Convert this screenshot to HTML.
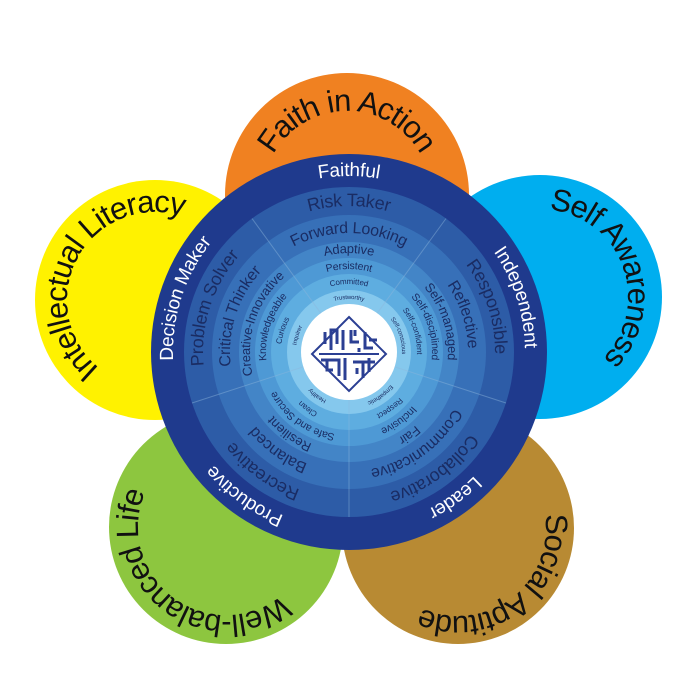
<!DOCTYPE html>
<html><head><meta charset="utf-8"><style>
html,body{margin:0;padding:0;background:#fff;}
svg{display:block;}
text{font-family:"Liberation Sans",sans-serif;}
</style></head><body>
<svg width="700" height="700" viewBox="0 0 700 700" xmlns="http://www.w3.org/2000/svg">
<defs>
<path id="pO" d="M347,287 A92,92 0 0 1 347,103 A92,92 0 0 1 347,287"/>
<path id="pC" d="M540,393 A96,96 0 0 1 540,201 A96,96 0 0 1 540,393"/>
<path id="pB" d="M458,432 A96,96 0 0 1 458,624 A96,96 0 0 1 458,432"/>
<path id="pG" d="M226,431 A96,96 0 0 1 226,623 A96,96 0 0 1 226,431"/>
<path id="pY" d="M155,396 A96,96 0 0 1 155,204 A96,96 0 0 1 155,396"/>
<path id="r1" d="M349,533 A181,181 0 0 1 349,171 A181,181 0 0 1 349,533"/>
<path id="r2" d="M349,503 A151,151 0 0 1 349,201 A151,151 0 0 1 349,503"/>
<path id="r3" d="M349,475 A123,123 0 0 1 349,229 A123,123 0 0 1 349,475"/>
<path id="r4" d="M349,454 A102,102 0 0 1 349,250 A102,102 0 0 1 349,454"/>
<path id="r5" d="M349,438 A86,86 0 0 1 349,266 A86,86 0 0 1 349,438"/>
<path id="r6" d="M349,422 A70,70 0 0 1 349,282 A70,70 0 0 1 349,422"/>
<path id="r7" d="M349,407 A55,55 0 0 1 349,297 A55,55 0 0 1 349,407"/>
</defs>
<!-- petals -->
<circle cx="347" cy="195" r="122" fill="#f08121"/>
<circle cx="155" cy="300" r="120" fill="#fff200"/>
<circle cx="540" cy="297" r="122" fill="#00aeef"/>
<circle cx="226" cy="527" r="117" fill="#8dc63f"/>
<circle cx="458" cy="528" r="116" fill="#b88a33"/>
<g font-size="31" fill="#111">
<text dominant-baseline="middle"><textPath href="#pO" startOffset="50%" text-anchor="middle">Faith in Action</textPath></text>
<text dominant-baseline="middle"><textPath href="#pC" startOffset="69.5%" text-anchor="middle">Self Awareness</textPath></text>
<text dominant-baseline="middle"><textPath href="#pB" startOffset="39.7%" text-anchor="middle">Social Aptitude</textPath></text>
<text dominant-baseline="middle"><textPath href="#pG" startOffset="60.3%" text-anchor="middle">Well-balanced Life</textPath></text>
<text dominant-baseline="middle"><textPath href="#pY" startOffset="33%" text-anchor="middle">Intellectual Literacy</textPath></text>
</g>
<!-- rings -->
<circle cx="349" cy="352" r="198" fill="#1f3a8d"/>
<circle cx="349" cy="352" r="165" fill="#2d5ca7"/>
<circle cx="349" cy="352" r="137" fill="#3770b8"/>
<circle cx="349" cy="352" r="110" fill="#4385c7"/>
<circle cx="349" cy="352" r="94" fill="#4e99d5"/>
<circle cx="349" cy="352" r="78" fill="#5eade0"/>
<circle cx="349" cy="352" r="62" fill="#85c8ed"/>
<circle cx="349" cy="352" r="48" fill="#fff"/>
<g stroke="#8fb6dc" stroke-opacity="0.45" stroke-width="1">
<line x1="349" y1="400" x2="349" y2="517"/>
<line x1="320.8" y1="313.2" x2="252" y2="218.5"/>
<line x1="377.2" y1="313.2" x2="446" y2="218.5"/>
<line x1="394.6" y1="366.8" x2="506" y2="403"/>
<line x1="303.4" y1="366.8" x2="192" y2="403"/>
</g>
<!-- ring texts -->
<g fill="#fff" font-size="19">
<text dominant-baseline="middle"><textPath href="#r1" startOffset="50%" text-anchor="middle">Faithful</textPath></text>
<text dominant-baseline="middle"><textPath href="#r1" startOffset="70%" text-anchor="middle">Independent</textPath></text>
<text dominant-baseline="middle"><textPath href="#r1" startOffset="90%" text-anchor="middle">Leader</textPath></text>
<text dominant-baseline="middle"><textPath href="#r1" startOffset="10%" text-anchor="middle">Productive</textPath></text>
<text dominant-baseline="middle"><textPath href="#r1" startOffset="30%" text-anchor="middle">Decision Maker</textPath></text>
</g>
<g fill="#1a2c63" font-size="18">
<text dominant-baseline="middle"><textPath href="#r2" startOffset="50%" text-anchor="middle">Risk Taker</textPath></text>
<text dominant-baseline="middle"><textPath href="#r2" startOffset="70%" text-anchor="middle">Responsible</textPath></text>
<text dominant-baseline="middle"><textPath href="#r2" startOffset="90%" text-anchor="middle">Collaborative</textPath></text>
<text dominant-baseline="middle"><textPath href="#r2" startOffset="10%" text-anchor="middle">Recreative</textPath></text>
<text dominant-baseline="middle"><textPath href="#r2" startOffset="30%" text-anchor="middle">Problem Solver</textPath></text>
</g>
<g fill="#1a2c63" font-size="16">
<text dominant-baseline="middle"><textPath href="#r3" startOffset="50%" text-anchor="middle">Forward Looking</textPath></text>
<text dominant-baseline="middle"><textPath href="#r3" startOffset="70%" text-anchor="middle">Reflective</textPath></text>
<text dominant-baseline="middle"><textPath href="#r3" startOffset="90%" text-anchor="middle">Communicative</textPath></text>
<text dominant-baseline="middle"><textPath href="#r3" startOffset="10%" text-anchor="middle">Balanced</textPath></text>
<text dominant-baseline="middle"><textPath href="#r3" startOffset="30%" text-anchor="middle">Critical Thinker</textPath></text>
</g>
<g fill="#1a2c63" font-size="13">
<text dominant-baseline="middle"><textPath href="#r4" startOffset="50%" text-anchor="middle">Adaptive</textPath></text>
<text dominant-baseline="middle"><textPath href="#r4" startOffset="70%" text-anchor="middle">Self-managed</textPath></text>
<text dominant-baseline="middle"><textPath href="#r4" startOffset="90%" text-anchor="middle">Fair</textPath></text>
<text dominant-baseline="middle"><textPath href="#r4" startOffset="10%" text-anchor="middle">Resilient</textPath></text>
<text dominant-baseline="middle"><textPath href="#r4" startOffset="30%" text-anchor="middle">Creative-Innovative</textPath></text>
</g>
<g fill="#1a2c63" font-size="10.5">
<text dominant-baseline="middle"><textPath href="#r5" startOffset="50%" text-anchor="middle">Persistent</textPath></text>
<text dominant-baseline="middle"><textPath href="#r5" startOffset="70%" text-anchor="middle">Self-disciplined</textPath></text>
<text dominant-baseline="middle"><textPath href="#r5" startOffset="90%" text-anchor="middle">Inclusive</textPath></text>
<text dominant-baseline="middle"><textPath href="#r5" startOffset="10%" text-anchor="middle">Safe and Secure</textPath></text>
<text dominant-baseline="middle"><textPath href="#r5" startOffset="30%" text-anchor="middle">Knowledgeable</textPath></text>
</g>
<g fill="#1a2c63" font-size="8">
<text dominant-baseline="middle"><textPath href="#r6" startOffset="50%" text-anchor="middle">Committed</textPath></text>
<text dominant-baseline="middle"><textPath href="#r6" startOffset="70%" text-anchor="middle">Self-confident</textPath></text>
<text dominant-baseline="middle"><textPath href="#r6" startOffset="90%" text-anchor="middle">Respect</textPath></text>
<text dominant-baseline="middle"><textPath href="#r6" startOffset="10%" text-anchor="middle">Clean</textPath></text>
<text dominant-baseline="middle"><textPath href="#r6" startOffset="30%" text-anchor="middle">Curious</textPath></text>
</g>
<g fill="#1a2c63" font-size="6">
<text dominant-baseline="middle"><textPath href="#r7" startOffset="50%" text-anchor="middle">Trustworthy</textPath></text>
<text dominant-baseline="middle"><textPath href="#r7" startOffset="70%" text-anchor="middle">Self-conscious</textPath></text>
<text dominant-baseline="middle"><textPath href="#r7" startOffset="90%" text-anchor="middle">Empathetic</textPath></text>
<text dominant-baseline="middle"><textPath href="#r7" startOffset="10%" text-anchor="middle">Healthy</textPath></text>
<text dominant-baseline="middle"><textPath href="#r7" startOffset="30%" text-anchor="middle">Inquirer</textPath></text>
</g>
<!-- logo -->
<g transform="translate(349,354)" stroke="#2b3f93" stroke-width="3" fill="none">
<path d="M0,-37 L37,0 L0,37 L-37,0 Z" stroke-width="2"/>
<path d="M-24,-10 V-22 M-18,-4 V-24 H-12 V-10 M-6,-24 V-4 M2,-24 V-12 H10 M6,-24 V-18 M16,-22 V-6 H24 M10,-6 V-2 M20,-14 H28"/>
<path d="M-28,6 H-10 V22 M-22,6 V16 H-16 M-4,4 V26 M4,8 H14 V24 M8,14 V20 M20,4 V18 M26,8 H14"/>
<path d="M-30,0 H30" stroke-width="2"/>
</g>
</svg>
</body></html>
